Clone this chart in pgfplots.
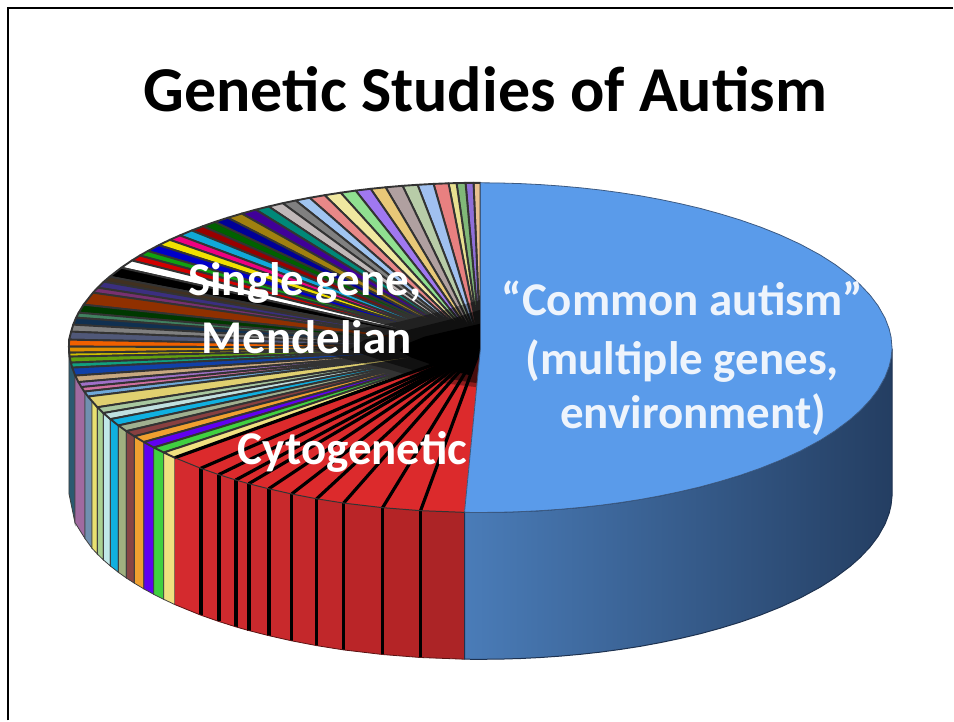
\documentclass[border=0pt]{standalone}
\usepackage{pgfplots}
\pgfplotsset{compat=1.18}
\usepackage{fontspec}
\setmainfont{Carlito}
\definecolor{lab}{HTML}{EEF4FC}
\newcommand{\W}[3]{\addplot[/utils/exec={\definecolor{tmpc}{HTML}{#1}},fill=tmpc,draw={black!80},line width=1.9pt,line join=round] coordinates {(481,348) (#2) (#3)} --cycle;}
\newcommand{\R}[3]{\addplot[/utils/exec={\definecolor{tmpc}{HTML}{#1}},fill=tmpc,draw=none] coordinates {(481,348) (#2) (#3)} --cycle;}
\newcommand{\Rl}[1]{\addplot[black,line width=3.2pt] coordinates {(481,348) (#1)};}
\newcommand{\Sd}[5]{\addplot[/utils/exec={\definecolor{tmpc}{HTML}{#1}},fill=tmpc,draw={black!75},line width=0.8pt] coordinates {(#2) (#3) (#4) (#5)} --cycle;}
\newcommand{\Sr}[5]{\addplot[/utils/exec={\definecolor{tmpc}{HTML}{#1}},fill=tmpc,draw=none] coordinates {(#2) (#3) (#4) (#5)} --cycle;}
\newcommand{\Sl}[2]{\addplot[black,line width=3.6pt] coordinates {(#1) (#2)};}
\begin{document}
\begin{tikzpicture}
\begin{axis}[scale only axis,width=954pt,height=721pt,xmin=0,xmax=954,ymin=0,ymax=721,y dir=reverse,hide axis,clip=false]
% background and frame
\addplot[fill=white,draw=none] coordinates {(0,0) (954,0) (954,721) (0,721)} --cycle;
\addplot[black,line width=2pt] coordinates {(8,721) (8,8) (954,8)};
% side, left strips
\Sd{2A5A70}{69,347}{75,376}{75,523}{69,494}
\Sd{A06AA0}{75,376}{85,392}{85,539}{75,523}
\Sd{7090B0}{85,392}{92,401.7}{92,548.7}{85,539}
\Sd{E8E070}{92,401.7}{97.5,407.7}{97.5,554.7}{92,548.7}
\Sd{A8D090}{97.5,407.7}{103.5,413.5}{103.5,560.5}{97.5,554.7}
\Sd{C0E8E8}{103.5,413.5}{110.5,419.6}{110.5,566.6}{103.5,560.5}
\Sd{10B0E0}{110.5,419.6}{118.5,425.9}{118.5,572.9}{110.5,566.6}
\Sd{A0B080}{118.5,425.9}{126.5,431.6}{126.5,578.6}{118.5,572.9}
\Sd{884444}{126.5,431.6}{134.5,436.8}{134.5,583.8}{126.5,578.6}
\Sd{F0A030}{134.5,436.8}{144,442.5}{144,589.5}{134.5,583.8}
\Sd{6000F0}{144,442.5}{154,448}{154,595}{144,589.5}
\Sd{40D040}{154,448}{164,453}{164,600}{154,595}
\Sd{F0E080}{164,453}{175,458.2}{175,605.2}{164,600}
% side, red strips
\Sr{D42A2E}{175,458.2}{201,468.8}{201,615.8}{175,605.2}
\Sr{D02A2E}{201,468.8}{219,475.1}{219,622.1}{201,615.8}
\Sr{CE2A2E}{219,475.1}{236,480.5}{236,627.5}{219,622.1}
\Sr{CC2A2E}{236,480.5}{249,484.2}{249,631.2}{236,627.5}
\Sr{CA292D}{249,484.2}{269,489.3}{269,636.3}{249,631.2}
\Sr{C8292C}{269,489.3}{292,494.5}{292,641.5}{269,636.3}
\Sr{C4282B}{292,494.5}{317,499.3}{317,646.3}{292,641.5}
\Sr{C0272A}{317,499.3}{344,503.6}{344,650.6}{317,646.3}
\Sr{BA2528}{344,503.6}{383,508.2}{383,655.2}{344,650.6}
\Sr{B42426}{383,508.2}{421,511.2}{421,658.2}{383,655.2}
\Sr{AC2426}{421,511.2}{465,512.9}{465,659.9}{421,658.2}
\Sl{201,468.8}{201,615.8}
\Sl{219,475.1}{219,622.1}
\Sl{236,480.5}{236,627.5}
\Sl{249,484.2}{249,631.2}
\Sl{269,489.3}{269,636.3}
\Sl{292,494.5}{292,641.5}
\Sl{317,499.3}{317,646.3}
\Sl{344,503.6}{344,650.6}
\Sl{383,508.2}{383,655.2}
\Sl{421,511.2}{421,658.2}
\addplot[draw={rgb,255:red,90;green,20;blue,20},line width=0.8pt] coordinates {(175,605.2) (201,615.8) (219,622.1) (236,627.5) (249,631.2) (269,636.3) (292,641.5) (317,646.3) (344,650.6) (383,655.2) (421,658.2) (465,659.9)};
% side, blue
\addplot[shade,left color={rgb,255:red,74;green,124;blue,184},middle color={rgb,255:red,52;green,96;blue,148},right color={rgb,255:red,36;green,62;blue,98},draw={rgb,255:red,30;green,50;blue,80},line width=1pt] coordinates {(465,512.9) (501,512.8) (541,511.2) (581,508) (621,503.1) (661,496.3) (701,487.4) (741,475.8) (781,460.8) (821,440.8) (851,420) (871,400.5) (886,377.5) (892,358.6) (893,349) (893,496) (892,505.6) (890,514) (886,524.5) (879,536.9) (871,547.5) (861,558.1) (851,567) (836,578.2) (821,587.8) (801,598.6) (781,607.8) (761,615.8) (741,622.8) (721,628.9) (701,634.4) (681,639.1) (661,643.3) (641,647) (621,650.1) (601,652.8) (581,655) (561,656.8) (541,658.2) (521,659.2) (501,659.8) (481,660) (465,659.9)} --cycle;
% top surface wedges, upper part
\W{E8C090}{481,183}{474,183}
\W{8F6FD8}{474,183}{466,183.1}
\W{80B878}{466,183.1}{457,183.3}
\W{E8E090}{457,183.3}{449,183.5}
\W{E88080}{449,183.5}{434,184.1}
\W{A0C0F0}{434,184.1}{418,185}
\W{B8CCA8}{418,185}{403,186}
\W{B0A0A0}{403,186}{386,187.5}
\W{E8C878}{386,187.5}{371,189}
\W{A078F0}{371,189}{356,190.8}
\W{90E090}{356,190.8}{341,192.9}
\W{F0E8A0}{341,192.9}{325,195.4}
\W{E88888}{325,195.4}{310,198}
\W{A0C4F0}{310,198}{296,200.7}
\W{808080}{296,200.7}{283,203.4}
\W{C0B8B8}{283,203.4}{269,206.7}
\W{008878}{269,206.7}{256,209.9}
\W{400098}{256,209.9}{242,213.8}
\W{A08010}{242,213.8}{228,218}
\W{000098}{228,218}{215,222.2}
\W{006000}{215,222.2}{203,226.5}
\W{980000}{203,226.5}{192,230.7}
\W{10A8D8}{192,230.7}{180,235.7}
\W{F00080}{180,235.7}{170,240.1}
\W{F0E000}{170,240.1}{159,245.4}
\W{0000C8}{159,245.4}{148,251.3}
\W{10A010}{148,251.3}{140,255.8}
\W{D00000}{140,255.8}{132,260.8}
\W{FFFFFF}{132,260.8}{121.4,268}
\W{000000}{121.4,268}{109.8,277}
\W{403020}{109.8,277}{104,282}
\W{3B2F80}{104,282}{97.8,288}
\W{783070}{97.8,288}{93.1,293}
\W{903000}{93.1,293}{83.7,305}
\W{003800}{83.7,305}{78.8,313}
\W{408060}{78.8,313}{76.2,318}
\W{103050}{76.2,318}{73.3,325}
\W{808080}{73.3,325}{71.2,332}
\W{505878}{71.2,332}{69.2,340}
\W{F06000}{69.2,340}{69,347}
\W{E09000}{69,347}{69.2,353}
\W{D0C000}{69.2,353}{69.7,357}
\W{60A010}{69.7,357}{70.9,363}
\W{10A080}{70.9,363}{72.3,368}
\W{1040A8}{72.3,368}{75.3,376}
\W{C8A880}{75.3,376}{78.5,382.5}
\W{A070C8}{78.5,382.5}{81.5,387.5}
\W{D070A0}{81.5,387.5}{84.4,392}
\W{70A8D8}{84.4,392}{88.1,397}
\W{E0D070}{88.1,397}{97.5,407.7}
\W{A8C8A0}{97.5,407.7}{103.5,413.5}
\W{C0E0E0}{103.5,413.5}{110.5,419.6}
\W{10B0E0}{110.5,419.6}{118.5,425.9}
\W{A0B090}{118.5,425.9}{126.5,431.6}
\W{884040}{126.5,431.6}{134.5,436.8}
\W{F0A030}{134.5,436.8}{144,442.5}
\W{6000F0}{144,442.5}{154,448}
\W{40D040}{154,448}{164,453}
\W{F0E080}{164,453}{175,458.2}
% top surface, red wedges
\R{DC2A2C}{175,458.2}{201,468.8}
\R{DC2A2C}{201,468.8}{219,475.1}
\R{DC2A2C}{219,475.1}{236,480.5}
\R{DC2A2C}{236,480.5}{249,484.2}
\R{DC2A2C}{249,484.2}{269,489.3}
\R{DC2A2C}{269,489.3}{292,494.5}
\R{DC2A2C}{292,494.5}{317,499.3}
\R{DC2A2C}{317,499.3}{344,503.6}
\R{DC2A2C}{344,503.6}{383,508.2}
\R{DC2A2C}{383,508.2}{421,511.2}
\R{DC2A2C}{421,511.2}{465,512.9}
\Rl{175,458.2}
\Rl{201,468.8}
\Rl{219,475.1}
\Rl{236,480.5}
\Rl{249,484.2}
\Rl{269,489.3}
\Rl{292,494.5}
\Rl{317,499.3}
\Rl{344,503.6}
\Rl{383,508.2}
\Rl{421,511.2}
% dark centre, fading outward
\addplot[fill=black,fill opacity=0.35,draw=none] coordinates {(481,300) (440,312) (400,322) (340,332) (300,345) (340,358) (390,370) (430,382) (481,388) (481,348)} --cycle;
\addplot[fill=black,fill opacity=0.5,draw=none] coordinates {(481,310) (450,320) (410,330) (365,340) (350,350) (385,362) (425,374) (460,381) (481,384) (481,348)} --cycle;
\addplot[fill=black,draw=none] coordinates {(481,324) (455,330) (425,337) (405,345) (400,351) (412,358) (435,366) (455,372) (472,376) (481,348)} --cycle;
% top surface, blue
\addplot[fill={rgb,255:red,90;green,155;blue,234},draw={rgb,255:red,60;green,90;blue,130},line width=0.8pt] coordinates {(481,348) (481,183) (501,183.2) (521,183.8) (541,184.8) (561,186.2) (581,188) (601,190.2) (621,192.9) (641,196) (661,199.7) (681,203.9) (701,208.6) (721,214.1) (741,220.2) (761,227.2) (781,235.2) (801,244.4) (821,255.2) (836,264.8) (851,276) (861,284.9) (871,295.5) (879,306.1) (886,318.5) (890,329) (892,337.4) (893,349) (892,358.6) (890,367) (886,377.5) (879,389.9) (871,400.5) (861,411.1) (851,420) (836,431.2) (821,440.8) (801,451.6) (781,460.8) (761,468.8) (741,475.8) (721,481.9) (701,487.4) (681,492.1) (661,496.3) (641,500) (621,503.1) (601,505.8) (581,508) (561,509.8) (541,511.2) (521,512.2) (501,512.8) (481,513) (465,512.9)} --cycle;
% rim line, red part
\addplot[black!80,line width=1pt] coordinates {(175,458.2) (201,468.8) (219,475.1) (236,480.5) (249,484.2) (269,489.3) (292,494.5) (317,499.3) (344,503.6) (383,508.2) (421,511.2) (465,512.9)};
% texts
\node[font=\fontsize{64}{64}\selectfont\bfseries,black,anchor=base] at (486,112) {Genetic Studies of Autism};
\node[font=\fontsize{47}{47}\selectfont\bfseries,lab,anchor=base] at (683,316) {“Common autism”};
\node[font=\fontsize{47}{47}\selectfont\bfseries,lab,anchor=base] at (683,375) {(multiple genes,};
\node[font=\fontsize{47}{47}\selectfont\bfseries,lab,anchor=base] at (694,429) {environment)};
\node[font=\fontsize{47}{47}\selectfont\bfseries,white,anchor=base] at (305,296) {Single gene,};
\node[font=\fontsize{47}{47}\selectfont\bfseries,white,anchor=base] at (307,354) {Mendelian};
\node[font=\fontsize{47}{47}\selectfont\bfseries,white,anchor=base] at (353,465) {Cytogenetic};
\end{axis}
\end{tikzpicture}
\end{document}
